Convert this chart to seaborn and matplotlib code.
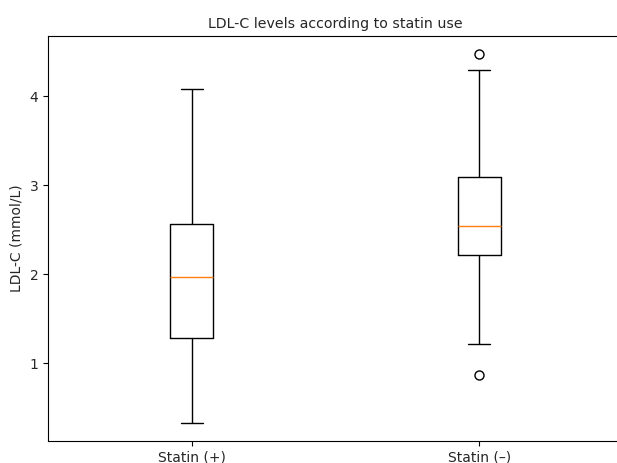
import matplotlib
matplotlib.use("Agg")
import matplotlib.pyplot as plt
import seaborn as sns
import pandas as pd

categories = ["Statin (+)", "Statin (–)"]
statin_pos = [0.33, 1.28, 1.97, 2.56, 4.08]
statin_neg = [0.87, 1.21, 2.22, 2.22, 2.54, 3.09, 3.09, 4.30, 4.47]

df = pd.DataFrame({
    "group": [categories[0]] * len(statin_pos) + [categories[1]] * len(statin_neg),
    "ldl": statin_pos + statin_neg,
})

sns.set_style("ticks")
plt.rcParams['font.family'] = ['DejaVu Sans']

fig = plt.figure(figsize=(6.17, 4.63), dpi=100)
ax = fig.add_axes([48 / 617, 22 / 463, 575 / 617, 405 / 463])

sns.boxplot(data=df, x="group", y="ldl", order=categories, width=0.15,
            fill=False, color="black", linewidth=1.0, whis=1.5,
            medianprops=dict(color="#ff7f0e", linewidth=1.0),
            flierprops=dict(marker="o", markerfacecolor="none",
                            markeredgecolor="black", markersize=6.5),
            ax=ax)

ax.set_xlim(-0.5, 1.5)
ax.set_ylim(0.123, 4.677)
ax.set_yticks([1, 2, 3, 4])
ax.set_xlabel("")
ax.set_ylabel("LDL-C (mmol/L)", fontsize=10)
ax.set_title("LDL-C levels according to statin use", fontsize=10.2)
ax.tick_params(labelsize=10, length=3.5, width=0.8, color="black")
for s in ax.spines.values():
    s.set_visible(True)
    s.set_linewidth(0.8)
    s.set_color("black")
ax.spines["right"].set_visible(False)

fig.savefig("out.png", dpi=100)
